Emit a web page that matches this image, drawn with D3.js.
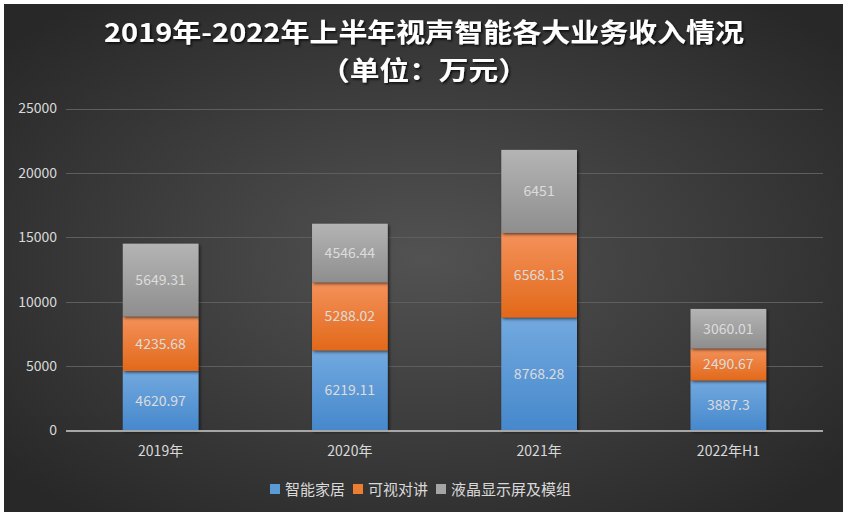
<!DOCTYPE html>
<html>
<head>
<meta charset="utf-8">
<style>
	body { margin:0; background:#fff; }
	svg { position:absolute; top:0px; left:0px; }
	text { font-family: "Noto Sans CJK SC", "Noto Sans", sans-serif; }
	.tick text { fill:#d9d9d9; font-size:14px; }
	.grid line { stroke:#5e5e5e; stroke-width:1px; }
	.lbl { fill:#dcdcdc; font-size:14px; text-anchor:middle; }
</style>
<script src="https://cdnjs.cloudflare.com/ajax/libs/d3/7.8.5/d3.min.js"></script>
</head>
<body>
<svg width="848" height="518"></svg>
<script>
var categories = ["2019年", "2020年", "2021年", "2022年H1"];
var seriesNames = ["智能家居", "可视对讲", "液晶显示屏及模组"];
var smartHome = [4620.97, 6219.11, 8768.28, 3887.3];
var intercom = [4235.68, 5288.02, 6568.13, 2490.67];
var lcd = [5649.31, 4546.44, 6451, 3060.01];
var yTicks = [0, 5000, 10000, 15000, 20000, 25000];

var svg = d3.select("svg"),
	width = +svg.attr("width"),
	height = +svg.attr("height");

var defs = svg.append("defs");
var bg = defs.append("radialGradient").attr("id", "bg").attr("cx", "50%").attr("cy", "50%").attr("r", "65%");
bg.append("stop").attr("offset", "0%").attr("stop-color", "#525252");
bg.append("stop").attr("offset", "100%").attr("stop-color", "#282828");

var grads = [["#72a9df", "#4688cc"], ["#f4915a", "#e2691a"], ["#b4b4b4", "#8e8e8e"]];
grads.forEach(function(c, i) {
	var g = defs.append("linearGradient").attr("id", "g" + i).attr("x1", 0).attr("y1", 0).attr("x2", 0).attr("y2", 1);
	g.append("stop").attr("offset", "0%").attr("stop-color", c[0]);
	g.append("stop").attr("offset", "100%").attr("stop-color", c[1]);
});
var sh = defs.append("filter").attr("id", "sh").attr("x", "-20%").attr("y", "-20%").attr("width", "140%").attr("height", "140%");
sh.append("feDropShadow").attr("dx", 1.5).attr("dy", 1.5).attr("stdDeviation", 1.5).attr("flood-color", "#000").attr("flood-opacity", 0.6);
var tsh = defs.append("filter").attr("id", "tsh");
tsh.append("feDropShadow").attr("dx", 1.5).attr("dy", 1.5).attr("stdDeviation", 1).attr("flood-color", "#000").attr("flood-opacity", 0.8);

svg.append("rect").attr("x", 4).attr("y", 4).attr("width", 839).attr("height", 508).attr("fill", "url(#bg)");

// title, two lines
svg.append("text").attr("x", 424).attr("y", 42).attr("text-anchor", "middle")
	.attr("fill", "#fff").attr("font-size", "26px").attr("font-weight", "bold").attr("filter", "url(#tsh)")
	.attr("textLength", 640).attr("lengthAdjust", "spacingAndGlyphs")
	.text("2019年-2022年上半年视声智能各大业务收入情况");
svg.append("text").attr("x", 424).attr("y", 80).attr("text-anchor", "middle")
	.attr("fill", "#fff").attr("font-size", "26px").attr("font-weight", "bold").attr("filter", "url(#tsh)")
	.attr("textLength", 208).attr("lengthAdjust", "spacingAndGlyphs")
	.text("（单位：万元）");

var x = d3.scaleBand().domain(categories).range([66, 823]).paddingInner(0.6).paddingOuter(0.3);
var y = d3.scaleLinear().domain([0, 25000]).range([430.5, 108.5]);

// gridlines
svg.append("g").attr("class", "grid").selectAll("line").data(yTicks.slice(1)).enter().append("line")
	.attr("x1", 66).attr("x2", 823).attr("y1", function(d) { return Math.round(y(d)) + 0.5; }).attr("y2", function(d) { return Math.round(y(d)) + 0.5; });

var yAxis = svg.append("g").attr("transform", "translate(57,0)")
	.call(d3.axisLeft(y).tickValues(yTicks).tickFormat(d3.format("d")).tickSize(0).tickPadding(0));
yAxis.select(".domain").remove();

var stackData = categories.map(function(c, i) { return { cat: c, s0: smartHome[i], s1: intercom[i], s2: lcd[i] }; });
var stack = d3.stack().keys(["s0", "s1", "s2"])(stackData);

var layers = svg.selectAll(".layer").data(stack).enter().append("g")
	.attr("fill", function(d, i) { return "url(#g" + i + ")"; });
layers.selectAll("rect").data(function(d) { return d; }).enter().append("rect")
	.attr("x", function(d) { return x(d.data.cat); })
	.attr("width", x.bandwidth())
	.attr("y", function(d) { return y(d[1]); })
	.attr("height", function(d) { return y(d[0]) - y(d[1]); })
	.attr("filter", "url(#sh)");

// labels
stack.forEach(function(layer) {
	svg.append("g").selectAll("text").data(layer).enter().append("text")
		.attr("class", "lbl")
		.attr("x", function(d) { return x(d.data.cat) + x.bandwidth() / 2; })
		.attr("y", function(d) { return (y(d[0]) + y(d[1])) / 2 + 5; })
		.text(function(d) { return d3.format("")(+(d[1] - d[0]).toFixed(2)); });
});

// x axis
svg.append("line").attr("x1", 66).attr("x2", 823).attr("y1", 431).attr("y2", 431).attr("stroke", "#a6a6a6").attr("stroke-width", 2);
var xAxis = svg.append("g").attr("transform", "translate(0,443)")
	.call(d3.axisBottom(x).tickSize(0).tickPadding(0));
xAxis.select(".domain").remove();
xAxis.selectAll("text").attr("dy", "0.9em");

// legend
var colors = ["#5b9bd5", "#ed7d31", "#a5a5a5"];
var legend = svg.append("g");
var lx = 270;
var widths = [83, 83, 140];
seriesNames.forEach(function(n, i) {
	legend.append("rect").attr("x", lx).attr("y", 484).attr("width", 10).attr("height", 10).attr("fill", colors[i]);
	legend.append("text").attr("x", lx + 15).attr("y", 495).attr("fill", "#d9d9d9").attr("font-size", "15px").text(n);
	lx += widths[i];
});
</script>
</body>
</html>
